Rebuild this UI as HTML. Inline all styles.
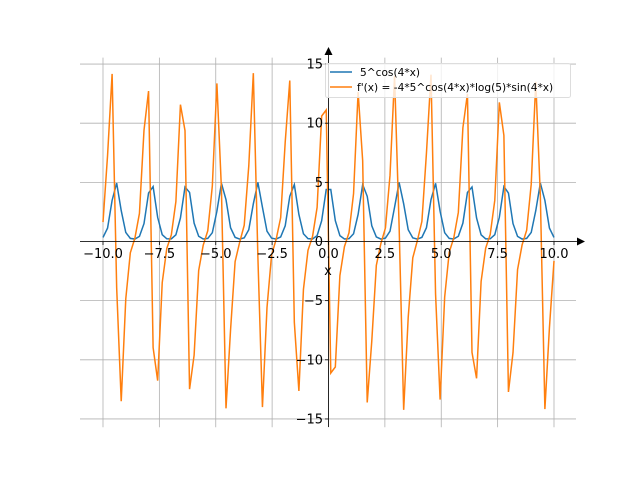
<!DOCTYPE html>
<html><head><meta charset="utf-8"><style>
html,body{margin:0;padding:0;background:#fff;}
svg text{font-family:"DejaVu Sans","Liberation Sans",sans-serif;}
</style></head><body>
<svg id="s" width="640" height="480" xmlns="http://www.w3.org/2000/svg">
<g id="grid" stroke="#b0b0b0" stroke-width="0.8"></g>
<polyline id="b" fill="none" stroke="#1f77b4" stroke-width="1.5"/>
<polyline id="o" fill="none" stroke="#ff7f0e" stroke-width="1.5"/>
<g stroke="#000" stroke-width="0.8">
<line x1="80" y1="241.5" x2="580" y2="241.5"/>
<line x1="328.5" y1="427" x2="328.5" y2="52"/>
</g>
<polygon points="585,241.5 577,237.5 577,245.5" fill="#000"/>
<polygon points="328.5,47 324.5,55 332.5,55" fill="#000"/>
<g id="ticks" stroke="#000" stroke-width="0.8"></g>
<g id="lbl" font-size="13" fill="#000"></g>
<text x="328" y="275" font-size="13" text-anchor="middle">x</text>
<rect x="325.5" y="63.5" width="245" height="34" rx="2" fill="#fff" fill-opacity="0.8" stroke="#ddd"/>
<line x1="330" y1="72" x2="352" y2="72" stroke="#1f77b4" stroke-width="1.5"/>
<line x1="330" y1="87" x2="352" y2="87" stroke="#ff7f0e" stroke-width="1.5"/>
<text x="360" y="76" font-size="10.6">5^cos(4*x)</text>
<text x="357" y="91" font-size="10.6">f'(x) = -4*5^cos(4*x)*log(5)*sin(4*x)</text>
</svg>
<script>
var X=function(x){return 328.5+x*22.55},Y=function(y){return 241.5-y*11.83};
var g=document.getElementById('grid'),t=document.getElementById('ticks'),l=document.getElementById('lbl'),ns='http://www.w3.org/2000/svg';
function el(p,n,a,txt){var e=document.createElementNS(ns,n);for(var k in a)e.setAttribute(k,a[k]);if(txt!=null)e.textContent=txt;p.appendChild(e);}
[-10,-7.5,-5,-2.5,0,2.5,5,7.5,10].forEach(function(v){var x=X(v);el(g,'line',{x1:x,x2:x,y1:57.6,y2:427.2});el(t,'line',{x1:x,x2:x,y1:241.5,y2:245});
el(l,'text',{x:x,y:258,'text-anchor':'middle'},v.toFixed(1).replace('-','\u2212'));});
[-15,-10,-5,0,5,10,15].forEach(function(v){var y=Y(v);el(g,'line',{x1:80,x2:576,y1:y,y2:y});el(t,'line',{x1:325,x2:328.5,y1:y,y2:y});
el(l,'text',{x:323,y:y+4.5,'text-anchor':'end'},String(v).replace('-','\u2212'));});
var pb=[],po=[],N=100;
for(var i=0;i<N;i++){var x=-10+20*i/(N-1);var f=Math.pow(5,Math.cos(4*x));var d=-4*f*Math.log(5)*Math.sin(4*x);
pb.push(X(x).toFixed(2)+','+Y(f).toFixed(2));po.push(X(x).toFixed(2)+','+Y(d).toFixed(2));}
document.getElementById('b').setAttribute('points',pb.join(' '));
document.getElementById('o').setAttribute('points',po.join(' '));
</script>
</body></html>
